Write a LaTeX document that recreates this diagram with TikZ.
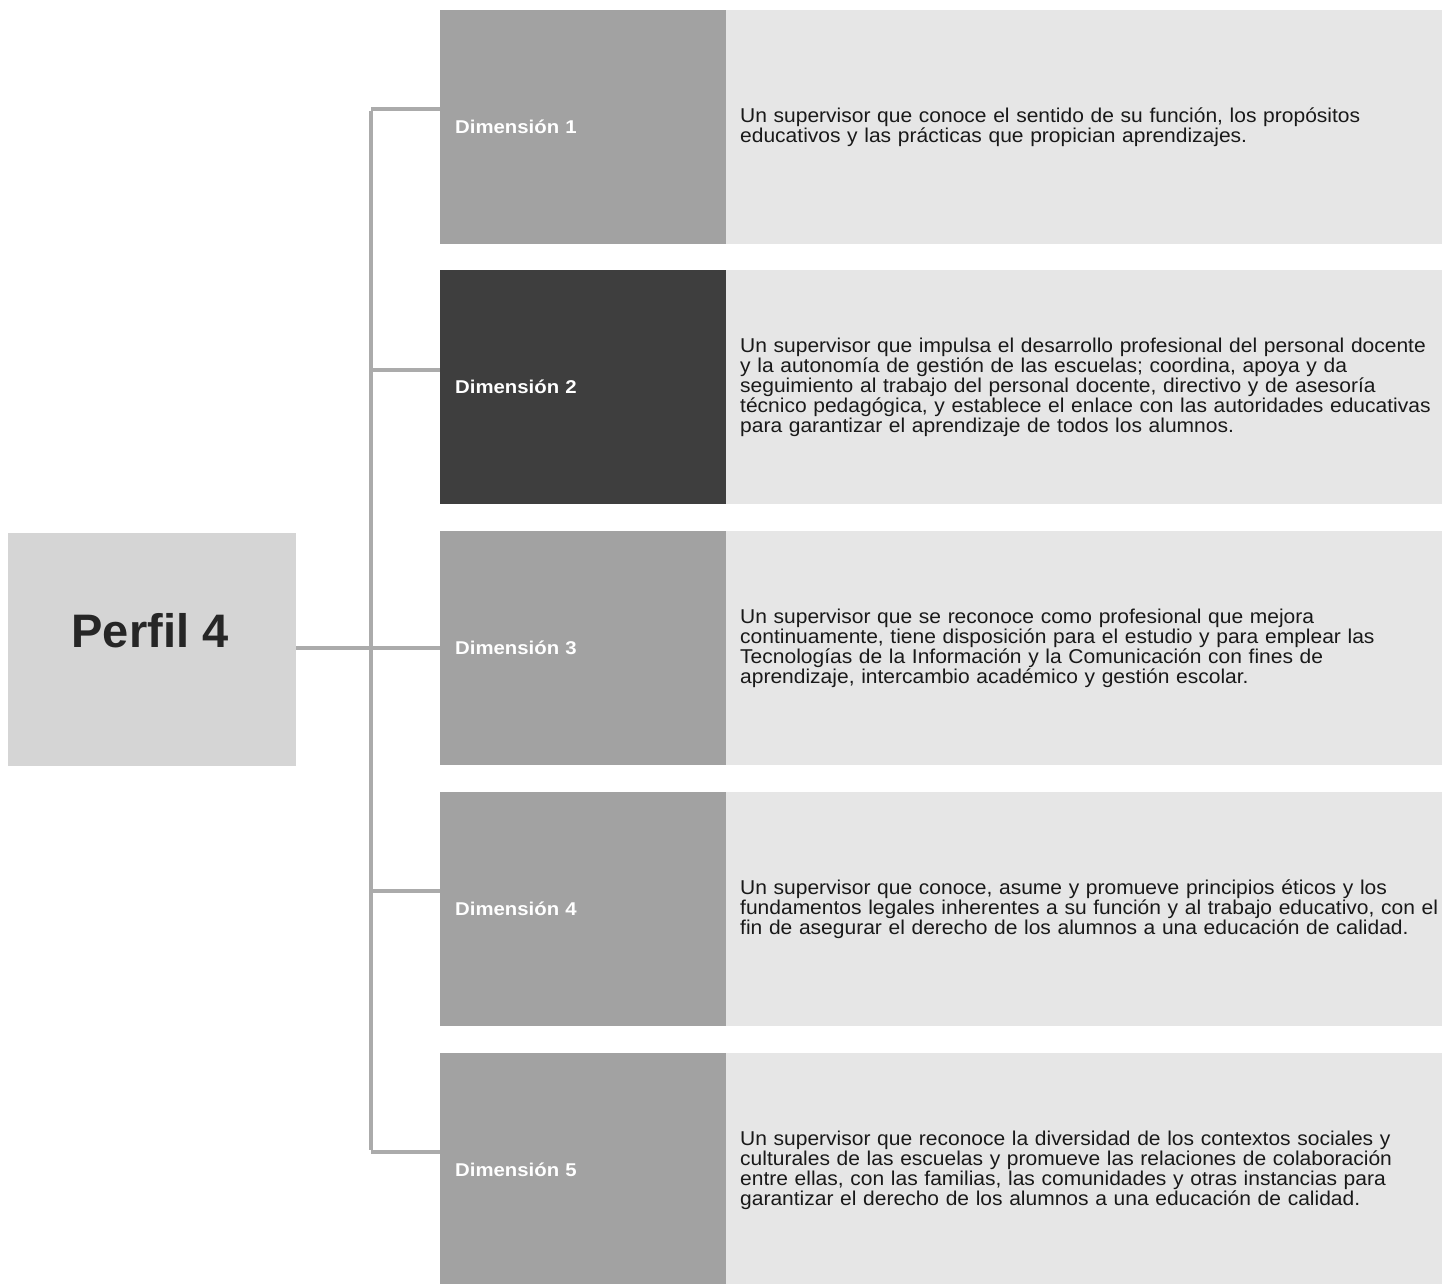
\documentclass[tikz,border=0pt]{standalone}
\usepackage{fontspec}
\setmainfont{Liberation Sans}
\newfontfamily\descfont[FakeStretch=1.05]{Liberation Sans}
\newfontfamily\dimfont[FakeStretch=1.1]{Liberation Sans}
\newcommand{\nohyphens}{\hyphenpenalty=10000\relax}
\definecolor{perfilfill}{HTML}{D5D5D5}
\definecolor{dimfill}{HTML}{A2A2A2}
\definecolor{dimdark}{HTML}{3E3E3E}
\definecolor{descfill}{HTML}{E6E6E6}
\definecolor{connc}{HTML}{ABABAB}
\begin{document}
\begin{tikzpicture}[x=1pt,y=-1pt,
  perfilbox/.style={fill=perfilfill, draw=none, minimum width=288pt, minimum height=233pt},
  perfiltext/.style={font=\fontsize{47}{50}\selectfont\bfseries, text=black!85, inner sep=0pt},
  dimbox/.style={fill=dimfill, draw=none, anchor=north west, minimum width=286pt, minimum height=234pt,
    text width=256pt, inner xsep=15pt, inner ysep=0pt, align=left,
    font=\dimfont\fontsize{18.5}{20}\selectfont\bfseries, text=white},
  descbox/.style={fill=descfill, draw=none, anchor=north west, minimum width=716pt, minimum height=234pt,
    text width=730pt, inner xsep=14pt, inner ysep=0pt, align=left,
    font=\descfont\fontsize{20}{20}\selectfont\nohyphens, text=black!90},
  conn/.style={draw=connc, line width=4pt}]
\useasboundingbox (0,0) rectangle (1442,1283);
\clip (0,0) rectangle (1442,1283);

\node[perfilbox] (p) at (152,649.5) {};
\node[perfiltext] (ptext) at (150,631) {Perfil 4};

\node[dimbox] (d1) at (440,10) {Dimensión 1};
\node[descbox] (t1) at (726,10) {Un supervisor que conoce el sentido de su función, los propósitos\\educativos y las prácticas que propician aprendizajes.};

\node[dimbox, fill=dimdark] (d2) at (440,270) {Dimensión 2};
\node[descbox] (t2) at (726,270) {Un supervisor que impulsa el desarrollo profesional del personal docente\\y la autonomía de gestión de las escuelas; coordina, apoya y da\\seguimiento al trabajo del personal docente, directivo y de asesoría\\técnico pedagógica, y establece el enlace con las autoridades educativas\\para garantizar el aprendizaje de todos los alumnos.};

\node[dimbox] (d3) at (440,531) {Dimensión 3};
\node[descbox] (t3) at (726,531) {Un supervisor que se reconoce como profesional que mejora\\continuamente, tiene disposición para el estudio y para emplear las\\Tecnologías de la Información y la Comunicación con fines de\\aprendizaje, intercambio académico y gestión escolar.};

\node[dimbox] (d4) at (440,792) {Dimensión 4};
\node[descbox] (t4) at (726,792) {Un supervisor que conoce, asume y promueve principios éticos y los\\fundamentos legales inherentes a su función y al trabajo educativo, con el\\fin de asegurar el derecho de los alumnos a una educación de calidad.};

\node[dimbox] (d5) at (440,1053) {Dimensión 5};
\node[descbox] (t5) at (726,1053) {Un supervisor que reconoce la diversidad de los contextos sociales y\\culturales de las escuelas y promueve las relaciones de colaboración\\entre ellas, con las familias, las comunidades y otras instancias para\\garantizar el derecho de los alumnos a una educación de calidad.};

\coordinate (c1) at (371,109);
\coordinate (c2) at (371,370);
\coordinate (c3) at (371,648);
\coordinate (c4) at (371,891);
\coordinate (c5) at (371,1152);

\draw[conn] ([yshift=-2pt]c1) -- ([yshift=2pt]c5);
\draw[conn] (c1) -- (c1 -| d1.west);
\draw[conn] (c2) -- (c2 -| d2.west);
\draw[conn] (p.east |- c3) -- (c3 -| d3.west);
\draw[conn] (c4) -- (c4 -| d4.west);
\draw[conn] (c5) -- (c5 -| d5.west);
\end{tikzpicture}
\end{document}
